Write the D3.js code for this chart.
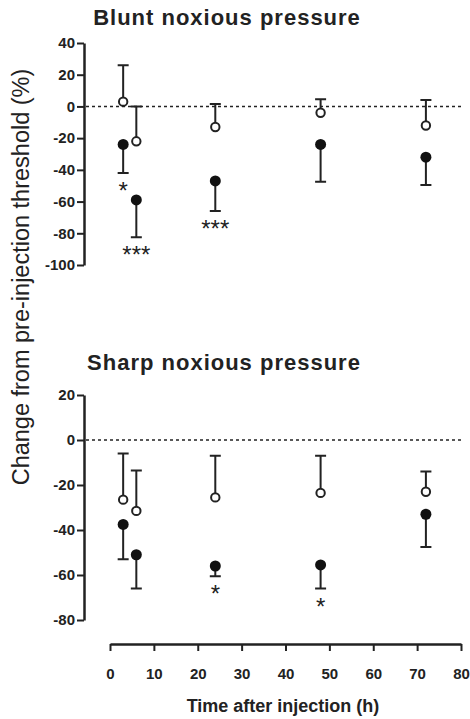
<!DOCTYPE html>
<html>
<head>
<meta charset="utf-8">
<script src="https://cdn.jsdelivr.net/npm/d3@7"></script>
<style>
  body { margin: 0; background: #fff; }
  svg { display: block; font-family: "Liberation Sans", Arial, Helvetica, sans-serif; }
</style>
</head>
<body>
<div id="chart"></div>
<script>
// time points (h)
const times = [3, 6, 24, 48, 72];

// blunt noxious pressure: open = control, filled = treated
const bluntOpenMean = [3, -22, -13, -4, -12];
const bluntOpenErr = [23, 22, 14.5, 8.5, 16];
const bluntFilledMean = [-24, -59, -47, -24, -32];
const bluntFilledErr = [18, 23.5, 19, 23.5, 17.5];
const bluntSig = ["*", "***", "***", "", ""];

// sharp noxious pressure
const sharpOpenMean = [-26.5, -31.5, -25.5, -23.5, -23];
const sharpOpenErr = [20.5, 18, 18.5, 16.5, 9];
const sharpFilledMean = [-37.5, -51, -56, -55.5, -33];
const sharpFilledErr = [15.5, 15, 4.5, 10.5, 14.5];
const sharpSig = ["", "", "*", "*", ""];

const bluntTicks = [40, 20, 0, -20, -40, -60, -80, -100];
const sharpTicks = [20, 0, -20, -40, -60, -80];
const xTicks = [0, 10, 20, 30, 40, 50, 60, 70, 80];

const W = 470, H = 719;
const ink = "#222";

const svg = d3.select("#chart").append("svg")
    .attr("width", W)
    .attr("height", H);

const x = d3.scaleLinear().domain([0, 80]).range([110, 461]);
const axisX = 84;

function panel(opts) {
  const y = d3.scaleLinear().domain(opts.domain).range(opts.range);
  const g = svg.append("g");

  // title
  g.append("text")
      .attr("x", opts.titleX)
      .attr("y", opts.titleY)
      .attr("text-anchor", "middle")
      .style("font-size", "22px")
      .style("font-weight", "bold")
      .style("letter-spacing", "1px")
      .style("fill", ink)
      .text(opts.title);

  // y axis
  const ax = g.append("g")
      .attr("transform", `translate(${axisX},0)`)
      .call(d3.axisLeft(y).tickValues(opts.ticks).tickFormat(d => String(d))
        .tickSize(7).tickPadding(2).tickSizeOuter(0));
  ax.select(".domain").attr("stroke", ink).attr("stroke-width", 2.5);
  ax.selectAll(".tick line").attr("stroke", ink).attr("stroke-width", 2);
  ax.selectAll(".tick text")
      .style("font-size", "15px")
      .style("font-weight", "bold")
      .style("font-family", "Liberation Sans, Arial, sans-serif")
      .attr("fill", ink);

  // zero line
  g.append("line")
      .attr("x1", axisX + 2)
      .attr("x2", x(80))
      .attr("y1", y(0))
      .attr("y2", y(0))
      .attr("stroke", ink)
      .attr("stroke-width", 1.5)
      .attr("stroke-dasharray", "3,3");

  const cap = 5.5;

  const open = times.map((t, i) => ({ t: t, m: opts.openMean[i], e: opts.openErr[i] }));
  const filled = times.map((t, i) => ({ t: t, m: opts.filledMean[i], e: opts.filledErr[i], s: opts.sig[i] }));

  // open: error bars upward
  g.selectAll(".ebo").data(open).enter().append("path")
      .attr("d", d => `M${x(d.t)},${y(d.m)}V${y(d.m + d.e)}M${x(d.t) - cap},${y(d.m + d.e)}H${x(d.t) + cap}`)
      .attr("stroke", ink)
      .attr("stroke-width", 2)
      .attr("fill", "none");

  // filled: error bars downward
  g.selectAll(".ebf").data(filled).enter().append("path")
      .attr("d", d => `M${x(d.t)},${y(d.m)}V${y(d.m - d.e)}M${x(d.t) - cap},${y(d.m - d.e)}H${x(d.t) + cap}`)
      .attr("stroke", ink)
      .attr("stroke-width", 2)
      .attr("fill", "none");

  g.selectAll(".pf").data(filled).enter().append("circle")
      .attr("cx", d => x(d.t))
      .attr("cy", d => y(d.m))
      .attr("r", 5.5)
      .attr("fill", "#111");

  g.selectAll(".po").data(open).enter().append("circle")
      .attr("cx", d => x(d.t))
      .attr("cy", d => y(d.m))
      .attr("r", 4.2)
      .attr("fill", "#fff")
      .attr("stroke", ink)
      .attr("stroke-width", 2);

  g.selectAll(".sig").data(filled.filter(d => d.s)).enter().append("text")
      .attr("x", d => x(d.t))
      .attr("y", d => y(d.m - d.e) + 26)
      .attr("text-anchor", "middle")
      .style("font-size", "24px")
      .style("fill", ink)
      .text(d => d.s);
}

panel({
  title: "Blunt noxious pressure",
  titleX: 227, titleY: 25,
  domain: [-100, 40], range: [265, 43],
  ticks: bluntTicks,
  openMean: bluntOpenMean, openErr: bluntOpenErr,
  filledMean: bluntFilledMean, filledErr: bluntFilledErr,
  sig: bluntSig
});

panel({
  title: "Sharp noxious pressure",
  titleX: 224, titleY: 370,
  domain: [-80, 20], range: [620, 395],
  ticks: sharpTicks,
  openMean: sharpOpenMean, openErr: sharpOpenErr,
  filledMean: sharpFilledMean, filledErr: sharpFilledErr,
  sig: sharpSig
});

// x axis (detached, below bottom panel)
const xa = svg.append("g")
    .attr("transform", "translate(0,644)")
    .call(d3.axisBottom(x).tickValues(xTicks).tickSize(7).tickPadding(17).tickSizeOuter(0));
xa.select(".domain").attr("stroke", ink).attr("stroke-width", 2.5);
xa.selectAll(".tick line").attr("stroke", ink).attr("stroke-width", 2);
xa.selectAll(".tick text")
    .style("font-size", "15px")
    .style("font-weight", "bold")
    .style("font-family", "Liberation Sans, Arial, sans-serif")
    .attr("fill", ink);

svg.append("text")
    .attr("x", 283)
    .attr("y", 712)
    .attr("text-anchor", "middle")
    .style("font-size", "18px")
    .style("font-weight", "bold")
    .style("fill", ink)
    .text("Time after injection (h)");

svg.append("text")
    .attr("transform", "translate(29,277) rotate(-90)")
    .attr("text-anchor", "middle")
    .style("font-size", "23.5px")
    .style("fill", ink)
    .text("Change from pre-injection threshold (%)");
</script>
</body>
</html>
